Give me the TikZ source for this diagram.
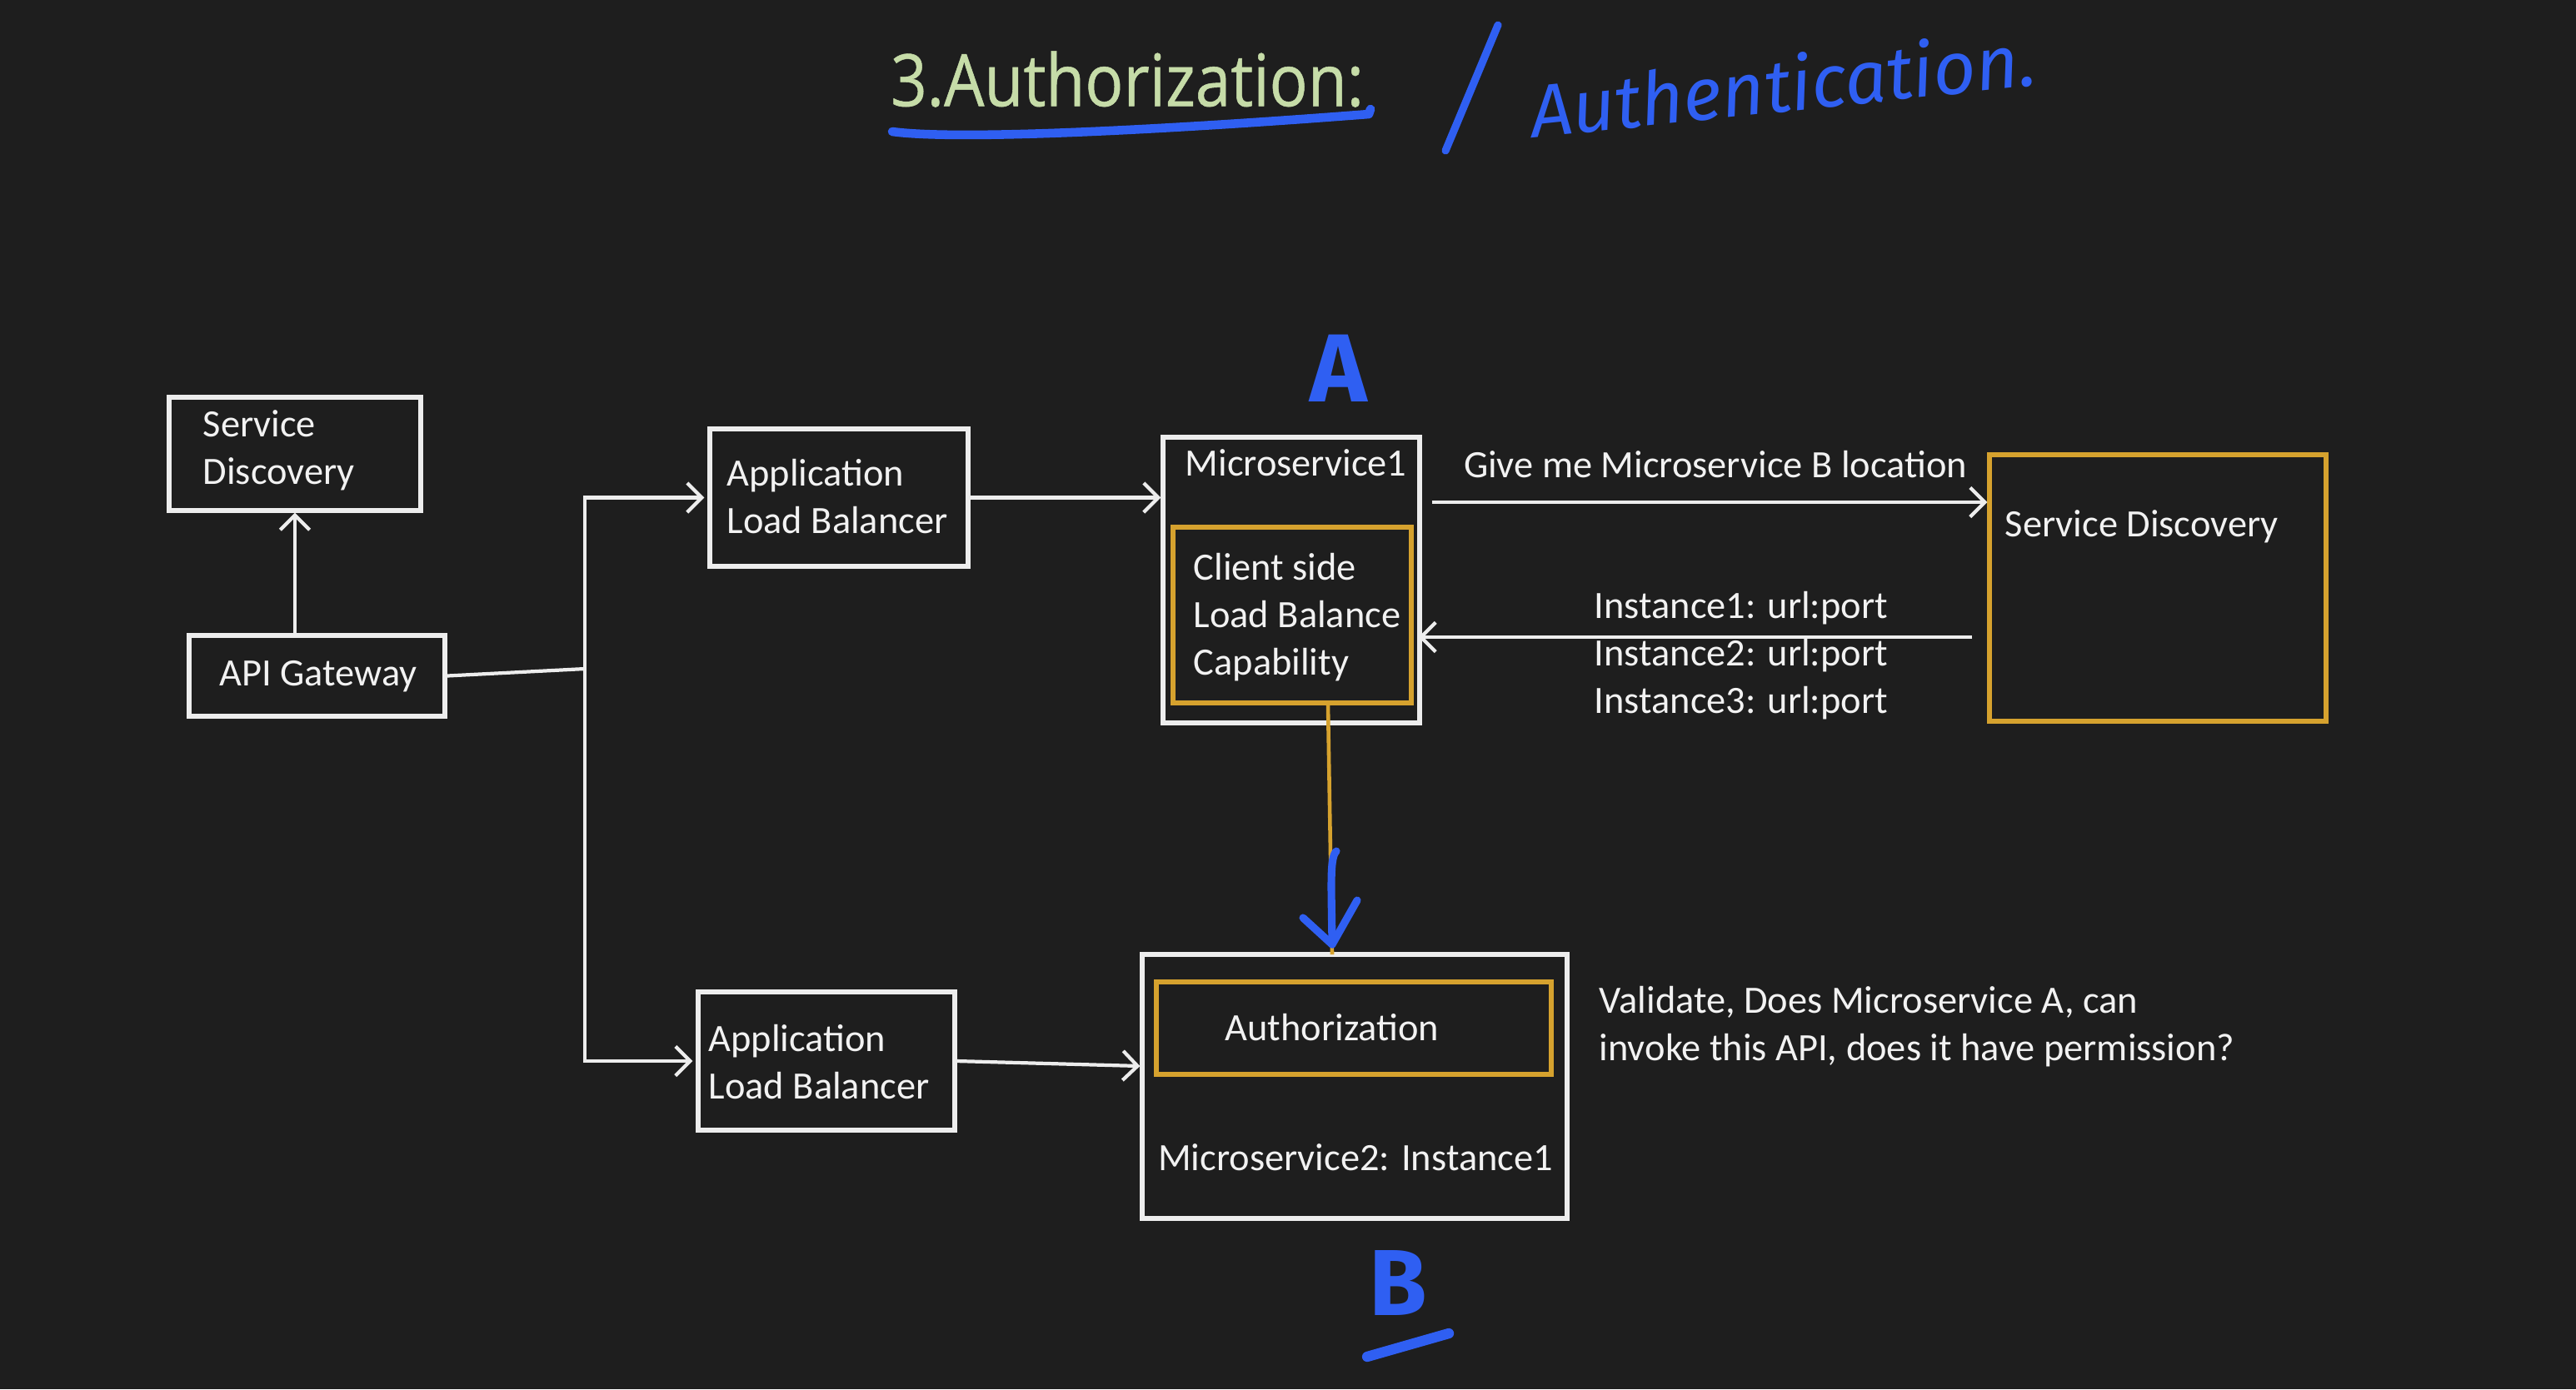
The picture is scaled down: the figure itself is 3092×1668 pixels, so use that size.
\documentclass[tikz,border=0pt]{standalone}
\usepackage{fontspec}
\usepackage{graphicx}
\setmainfont{Carlito}
\newfontfamily\titlefont[FakeStretch=0.88,FakeBold=0.6]{Open Sans}
\newfontfamily\handfont{Fira Sans}
\usetikzlibrary{arrows.meta,fit,calc}
\definecolor{bg}{HTML}{1E1E1E}
\definecolor{lnw}{HTML}{EDEDED}
\definecolor{txw}{HTML}{F2F2F2}
\definecolor{org}{HTML}{D6A22E}
\definecolor{pen}{HTML}{2F5FF2}
\definecolor{ttl}{HTML}{C6DCA8}
\begin{document}
\begin{tikzpicture}[x=0.01cm,y=-0.01cm,
  wbox/.style={draw=lnw, line width=1.5pt, inner sep=0pt},
  obox/.style={draw=org, line width=1.5pt, inner sep=0pt},
  txt/.style={text=txw, font=\fontsize{13.2pt}{16.2pt}\selectfont, align=left, inner sep=0pt},
  wline/.style={draw=lnw, line width=1.2pt},
  warrow/.style={draw=lnw, line width=1.2pt, -{Straight Barb[length=5pt,width=10pt,line width=1.2pt]}},
  penline/.style={draw=pen, line width=2.6pt, line cap=round, line join=round},
  pentxt/.style={text=pen, inner sep=0pt}
]
\fill[bg] (0,0) rectangle (3092,1668);
\useasboundingbox (0,0) rectangle (3092,1668);

% title
\node[text=ttl, inner sep=0pt, font=\titlefont\fontsize{24.7pt}{28pt}\selectfont] (title) at (1353,95) {3.Authorization:};
\draw[penline, line width=3pt] (1071,158) .. controls (1160,170) and (1450,152) .. (1643,137) -- (1645,131);
\draw[penline] (1735,181) -- (1798,30);
\node[pentxt, rotate=6] (auth) at (2140,100) {\resizebox{6.1cm}{!}{\handfont\itshape Authentication.}};

% left side
\node[wbox, fit={(203,477) (505,613)}] (sdl) {};
\node[txt, anchor=west] (sdlt) at (243,541) {Service\\Discovery};
\node[wbox, fit={(227,763) (534,860)}] (api) {};
\node[txt] (apit) at (382,812) {API Gateway};
\node[wbox, fit={(852,515) (1162,680)}] (alb1) {};
\node[txt, anchor=west] (alb1t) at (872,596) {Application\\Load Balancer};
\node[wbox, fit={(838,1191) (1146,1357)}] (alb2) {};
\node[txt, anchor=west] (alb2t) at (850,1275) {Application\\Load Balancer};

\coordinate (j) at (702,803);
\draw[warrow] (api.north -| sdl.south) -- (sdl.south);
\draw[wline] (api.east) -- (j);
\draw[warrow] (j) |- ([xshift=-0.04cm]alb1.west);
\draw[warrow] (j) |- ([xshift=-0.04cm]alb2.west);

% microservice 1
\node[wbox, fit={(1396,525) (1704,868)}] (ms1) {};
\node[txt, anchor=west] (ms1t) at (1422,556) {Microservice1};
\node[obox, fit={(1408,633) (1694,844)}] (cls) {};
\node[txt, anchor=west] (clst) at (1432,741) {Client side\\Load Balance\\Capability};
\draw[warrow] (alb1.east) -- (alb1.east -| ms1.west);

% service discovery right
\node[obox, fit={(2388,546) (2792,866)}] (sdr) {};
\node[txt, anchor=west] (sdrt) at (2406,632) {Service Discovery};
\coordinate (ya) at (0,603);
\coordinate (yb) at (0,765);
\draw[warrow] ([xshift=0.12cm]ms1.east |- ya) -- (sdr.west |- ya);
\node[txt] (give) at (2059,558) {Give me Microservice B location};
\draw[warrow] ([xshift=-0.18cm]sdr.west |- yb) -- ([xshift=-0.04cm]ms1.east |- yb);
\node[txt, anchor=west] (inst) at (1913,787) {Instance1: url:port\\Instance2: url:port\\Instance3: url:port};

% microservice 2
\node[wbox, fit={(1371,1146) (1881,1463)}] (ms2) {};
\node[obox, fit={(1388,1179) (1862,1290)}] (authz) {};
\node[txt] (authzt) at (1599,1234) {Authorization};
\node[txt] (ms2t) at (1627,1390) {Microservice2: Instance1};
\draw[warrow] (alb2.east) -- ([yshift=-0.06cm]alb2.east -| ms2.west);
\node[txt, anchor=west] (valid) at (1919,1233) {Validate, Does Microservice A, can\\invoke this API, does it have permission?};

% orange connector
\coordinate (oe) at (1599,1146);
\draw[draw=org, line width=1.3pt] (cls.south -| 1594,0) -- (oe);

% blue pen marks
\draw[penline] (1604,1022) .. controls (1596,1030) and (1598,1060) .. (1599,1134);
\draw[penline] (1564,1102) -- (1599,1134) -- (1629,1081);
\node[pentxt, font=\handfont\bfseries\fontsize{33pt}{36pt}\selectfont] (la) at (1607,442) {A};
\node[pentxt, font=\handfont\bfseries\fontsize{32pt}{36pt}\selectfont] (lb) at (1678,1540) {B};
\draw[penline, line width=3.5pt] (1641,1629) -- (1739,1601);
\end{tikzpicture}
\end{document}
